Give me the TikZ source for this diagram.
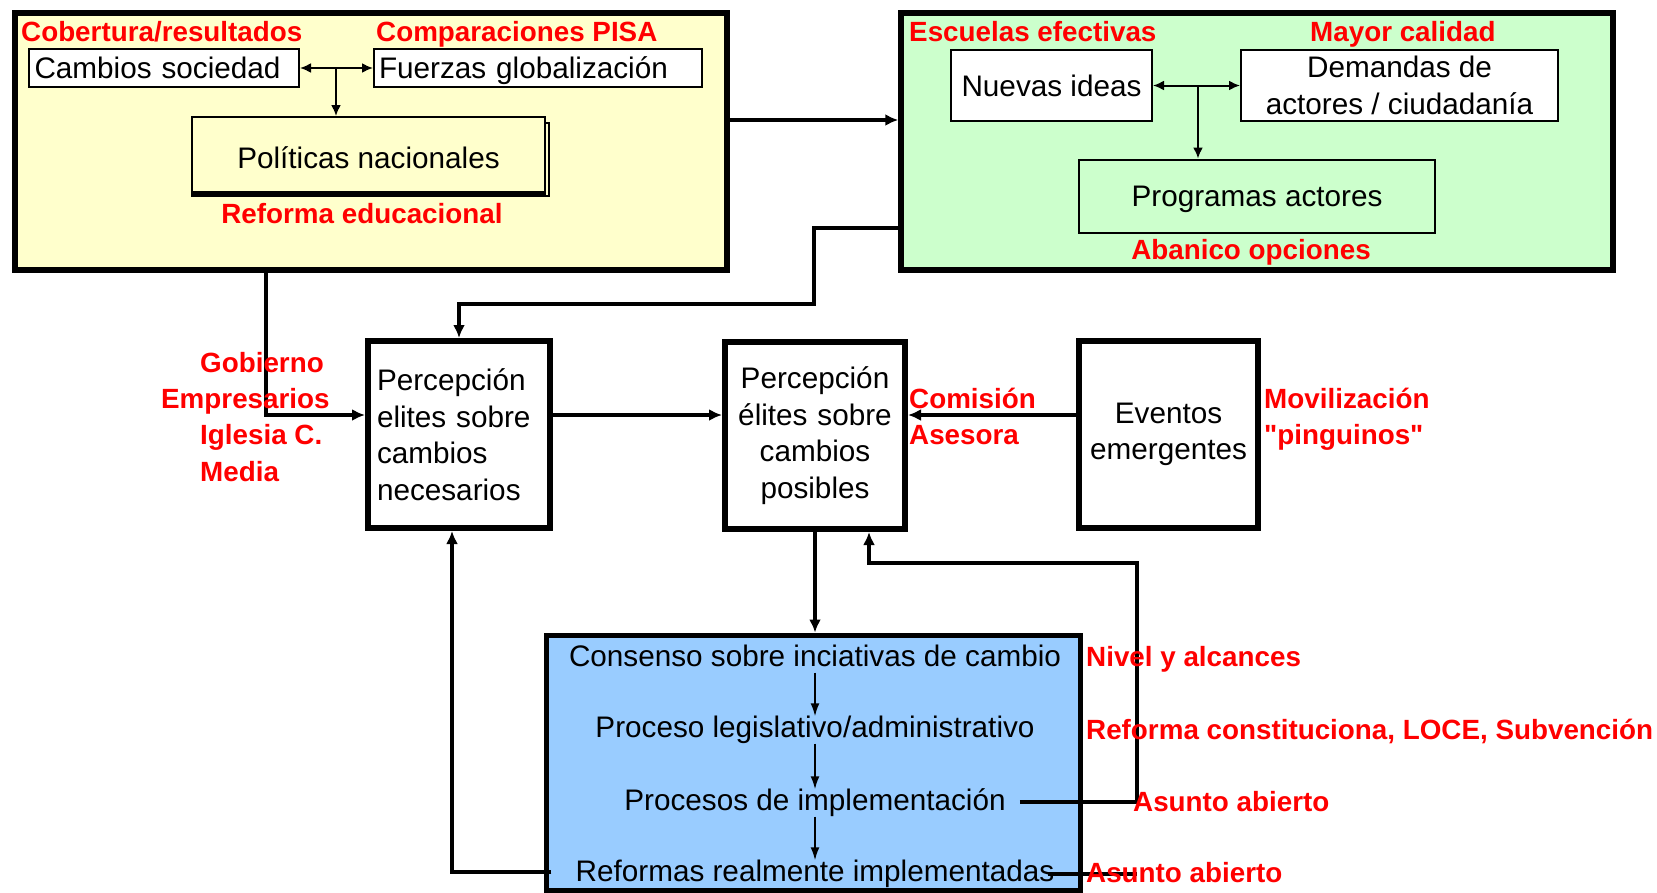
\documentclass[tikz,border=0pt]{standalone}
\usepackage{fontspec}
\setmainfont{Liberation Sans}
\newfontfamily\nomap{Liberation Sans}[Ligatures=TeXOff]
\usetikzlibrary{arrows.meta}
\definecolor{yel}{HTML}{FFFFCC}
\definecolor{grn}{HTML}{CCFFCC}
\definecolor{blu}{HTML}{99CCFF}
\definecolor{myred}{HTML}{FF0000}
\begin{document}
\begin{tikzpicture}[x=1pt,y=-1pt,
  txt/.style={font=\fontsize{29.7}{36.5}\selectfont, text=black},
  lbl/.style={font=\fontsize{27.8}{36}\selectfont\bfseries, text=myred, inner sep=0pt, text height=20pt, text depth=6pt},
  frame/.style={draw, line width=5.5pt, inner sep=0pt},
  ibox/.style={draw, line width=2pt, fill=white, txt, inner sep=0pt},
  one/.style={text height=27pt, text depth=6pt},
  pbox/.style={draw, line width=6pt, fill=white, txt, inner ysep=0pt},
  btxt/.style={txt, inner sep=0pt, text height=21pt, text depth=6pt},
  conn/.style={line width=3.5pt, -{Latex[length=13pt,width=12pt]}},
  thinar/.style={line width=2pt, -{Latex[length=11pt,width=10pt]}},
  dblar/.style={line width=2pt, {Latex[length=11pt,width=10pt]}-{Latex[length=11pt,width=10pt]}},
  inar/.style={line width=1.8pt, -{Latex[length=13pt,width=9pt]}},
]
\useasboundingbox (0,0) rectangle (1657,892);
\fill[white] (0,0) rectangle (1657,892);

% ---------- yellow frame ----------
\node[frame, fill=yel, minimum width=712pt, minimum height=257pt] (Y) at (371,141.5) {};
\node[ibox, one, minimum width=270.5pt, minimum height=38pt, text width=258.5pt, align=left, inner xsep=6pt] (cs) at (163.75,68) {Cambios sociedad};
\node[ibox, one, minimum width=328pt, minimum height=38pt, text width=318pt, align=left, inner xsep=5pt] (fg) at (538,68) {Fuerzas globalización};
\draw[line width=2pt] (192,123) rectangle (549,196);
\node[draw, line width=2pt, fill=yel, txt, text height=33pt, text depth=6pt, minimum width=353pt, minimum height=75pt, inner sep=0pt] (pn) at (368.5,154.5) {Políticas nacionales};
\draw[line width=3pt] (pn.south west) -- (pn.south east);
\draw[dblar] (cs.east) -- (fg.west);
\coordinate (j1) at (336,68);
\draw[thinar] (j1) -- (j1 |- pn.north);
\node[lbl, anchor=west] (l1) at (21,34) {Cobertura/resultados};
\node[lbl, anchor=west] (l2) at (376,34) {Comparaciones PISA};
\node[lbl] (l3) at (362,216) {Reforma educacional};

% ---------- green frame ----------
\node[frame, fill=grn, minimum width=712pt, minimum height=257pt] (G) at (1257,141.5) {};
\node[ibox, one, minimum width=201pt, minimum height=71pt] (ni) at (1051.5,85.5) {Nuevas ideas};
\node[ibox, minimum width=317pt, minimum height=71pt, align=center] (dm) at (1399.5,85.5) {Demandas de\\actores / ciudadanía};
\node[ibox, one, fill=grn, minimum width=356pt, minimum height=73pt] (pa) at (1257,196) {Programas actores};
\draw[dblar] (ni.east) -- (dm.west);
\coordinate (j2) at (1198,85.5);
\draw[thinar] (j2) -- (j2 |- pa.north);
\node[lbl, anchor=west] (l4) at (909,34) {Escuelas efectivas};
\node[lbl, anchor=west] (l5) at (1310,34) {Mayor calidad};
\node[lbl] (l6) at (1251,252) {Abanico opciones};

% ---------- middle boxes ----------
\node[pbox, minimum width=182pt, minimum height=187pt, text width=164pt, align=left, inner xsep=9pt] (N) at (459,434.5) {Percepción\\elites sobre\\cambios\\necesarios};
\node[pbox, minimum width=180pt, minimum height=187pt, text width=166pt, align=center, inner xsep=7pt] (P) at (815,435.5) {Percepción\\élites sobre\\cambios\\posibles};
\node[pbox, minimum width=179pt, minimum height=187pt, text width=165pt, align=center, inner xsep=7pt] (E) at (1168.5,434.5) {Eventos\\emergentes};

% ---------- blue box ----------
\node[frame, fill=blu, line width=5pt, minimum width=534pt, minimum height=255pt] (B) at (813,762.5) {};
\node[btxt] (t1) at (815,659) {Consenso sobre inciativas de cambio};
\node[btxt] (t2) at (815,730) {Proceso legislativo/administrativo};
\node[btxt] (t3) at (815,803) {Procesos de implementación};
\node[btxt] (t4) at (815,874) {Reformas realmente implementadas};
\draw[inar] (t1.south) -- (t2.north);
\draw[inar] (t2.south) -- (t3.north);
\draw[inar] (t3.south) -- (t4.north);

% ---------- connectors ----------
\draw[conn] (Y.east |- 0,120) -- (G.west |- 0,120);
\draw[conn] (G.west |- 0,228) -| (814,304) -| (N.north);
\draw[conn] (Y.south -| 266,0) |- ([yshift=19.5pt]N.west);
\draw[conn] ([yshift=19.5pt]N.east) -- (P.west |- 0,415);
\draw[conn] ([yshift=19.5pt]E.west) -- (P.east |- 0,415);
\draw[conn] (P.south) -- (P.south |- B.north);
\draw[conn] ([xshift=14pt,yshift=1pt]t3.east) -- (1137,802) |- (869,563) -- (P.south -| 869,0);
\draw[conn] ([xshift=-24pt,yshift=2pt]t4.west) -- (452,872) -- (N.south -| 452,0);
\draw[line width=3.5pt] ([xshift=-7pt]t4.east) -- (1137,874);

% ---------- red labels ----------
\node[lbl, anchor=west] (g1) at (200,365) {Gobierno};
\node[lbl, anchor=west] (g2) at (161,401) {Empresarios};
\node[lbl, anchor=west] (g3) at (200,437) {Iglesia C.};
\node[lbl, anchor=west] (g4) at (200,474) {Media};
\node[lbl, anchor=west] (c1) at (909,401) {Comisión};
\node[lbl, anchor=west] (c2) at (909,437) {Asesora};
\node[lbl, anchor=west] (m1) at (1264,401) {Movilización};
\node[lbl, anchor=west] (m2) at (1264,437) {\nomap\bfseries "pinguinos"};
\node[lbl, anchor=west] (r1) at (1086,659) {Nivel y alcances};
\node[lbl, anchor=west] (r2) at (1086,732) {Reforma constituciona, LOCE, Subvención};
\node[lbl, anchor=west] (r3) at (1133,804) {Asunto abierto};
\node[lbl, anchor=west] (r4) at (1086,875) {Asunto abierto};
\end{tikzpicture}
\end{document}
